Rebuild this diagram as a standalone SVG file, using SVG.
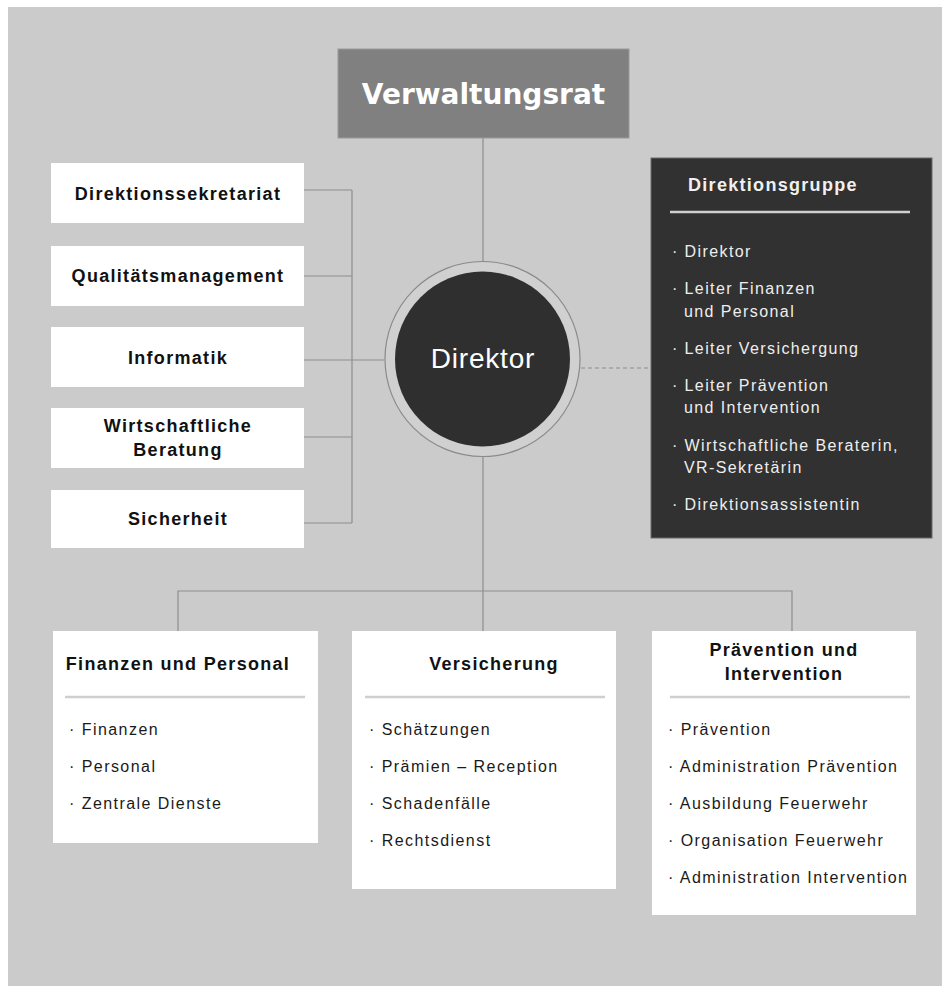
<svg xmlns="http://www.w3.org/2000/svg" width="942" height="986" viewBox="0 0 942 986">
<style>
.bg{fill:#cbcbcb}
.box{fill:#ffffff}
.tb{font-family:"Liberation Sans",Arial,sans-serif;font-weight:bold;font-size:18px;letter-spacing:1.3px;fill:#111}
.it{font-family:"Liberation Sans",Arial,sans-serif;font-size:16px;letter-spacing:1.45px;fill:#1a1a1a}
.dit{font-family:"Liberation Sans",Arial,sans-serif;font-size:16px;letter-spacing:1.4px;fill:#eeeeee}
.sep{stroke:#cfcfcf;stroke-width:2.5}
.conn{stroke:#8e8e8e;stroke-width:1.2;fill:none}
.mid{text-anchor:middle}
</style>
<rect class="bg" x="8" y="7" width="934" height="979"/>

<g id="connectors">
<path class="conn" d="M483 138V262M483 457V631M178 631V591H792V631"/>
<path class="conn" d="M304 190H352M304 276H352M304 360H384M304 437H352M304 523H352M352 190V523"/>
<path class="conn" d="M581 368H651" stroke-dasharray="4 3"/>
</g>

<g id="verwaltungsrat">
<rect x="338" y="49" width="291" height="89" fill="#808080" stroke="#9a9a9a" stroke-width="1"/>
<text x="483.5" y="103.5" class="mid" style="font-family:'DejaVu Sans',sans-serif;font-weight:bold;font-size:28px;fill:#ffffff">Verwaltungsrat</text>
</g>

<g id="direktor">
<circle cx="482.5" cy="359" r="97.5" fill="#d0d0d0" stroke="#8a8a8a" stroke-width="1.2"/>
<circle cx="482.5" cy="359" r="87.5" fill="#2f2f2f"/>
<text x="483" y="368" class="mid" style="font-family:'Liberation Sans',Arial,sans-serif;font-size:28px;letter-spacing:0.8px;fill:#ffffff">Direktor</text>
</g>

<g id="direktionssekretariat">
<rect class="box" x="51" y="163" width="253" height="60"/>
<text class="tb mid" x="178" y="200">Direktionssekretariat</text>
</g>
<g id="qualitaetsmanagement">
<rect class="box" x="51" y="246" width="253" height="60"/>
<text class="tb mid" x="178" y="282">Qualitätsmanagement</text>
</g>
<g id="informatik">
<rect class="box" x="51" y="327" width="253" height="60"/>
<text class="tb mid" x="178" y="364">Informatik</text>
</g>
<g id="wirtschaftliche-beratung">
<rect class="box" x="51" y="408" width="253" height="60"/>
<text class="tb mid" x="178" y="432">Wirtschaftliche</text>
<text class="tb mid" x="178" y="456">Beratung</text>
</g>
<g id="sicherheit">
<rect class="box" x="51" y="490" width="253" height="58"/>
<text class="tb mid" x="178" y="525">Sicherheit</text>
</g>

<g id="direktionsgruppe">
<rect x="651" y="158" width="281" height="380" fill="#313131" stroke="#6a6a6a" stroke-width="1"/>
<text class="tb" x="688" y="191" style="fill:#f0f0f0">Direktionsgruppe</text>
<line class="sep" x1="670" y1="212" x2="910" y2="212" style="stroke:#d0d0d0"/>
<text class="dit" x="672" y="257">· Direktor</text>
<text class="dit" x="672" y="294">· Leiter Finanzen</text>
<text class="dit" x="684" y="317">und Personal</text>
<text class="dit" x="672" y="354">· Leiter Versichergung</text>
<text class="dit" x="672" y="391">· Leiter Prävention</text>
<text class="dit" x="684" y="413">und Intervention</text>
<text class="dit" x="672" y="451">· Wirtschaftliche Beraterin,</text>
<text class="dit" x="684" y="473">VR-Sekretärin</text>
<text class="dit" x="672" y="510">· Direktionsassistentin</text>
</g>

<g id="finanzen-und-personal">
<rect class="box" x="53" y="631" width="265" height="212"/>
<text class="tb mid" x="178" y="670">Finanzen und Personal</text>
<line class="sep" x1="65" y1="697" x2="305" y2="697"/>
<text class="it" x="69" y="735">· Finanzen</text>
<text class="it" x="69" y="772">· Personal</text>
<text class="it" x="69" y="809">· Zentrale Dienste</text>
</g>

<g id="versicherung">
<rect class="box" x="352" y="631" width="264" height="258"/>
<text class="tb mid" x="494" y="670">Versicherung</text>
<line class="sep" x1="365" y1="697" x2="605" y2="697"/>
<text class="it" x="369" y="735">· Schätzungen</text>
<text class="it" x="369" y="772">· Prämien – Reception</text>
<text class="it" x="369" y="809">· Schadenfälle</text>
<text class="it" x="369" y="846">· Rechtsdienst</text>
</g>

<g id="praevention-und-intervention">
<rect class="box" x="652" y="631" width="264" height="284"/>
<text class="tb mid" x="784" y="656">Prävention und</text>
<text class="tb mid" x="784" y="680">Intervention</text>
<line class="sep" x1="670" y1="697" x2="910" y2="697"/>
<text class="it" x="668" y="735">· Prävention</text>
<text class="it" x="668" y="772">· Administration Prävention</text>
<text class="it" x="668" y="809">· Ausbildung Feuerwehr</text>
<text class="it" x="668" y="846">· Organisation Feuerwehr</text>
<text class="it" x="668" y="883">· Administration Intervention</text>
</g>
</svg>
